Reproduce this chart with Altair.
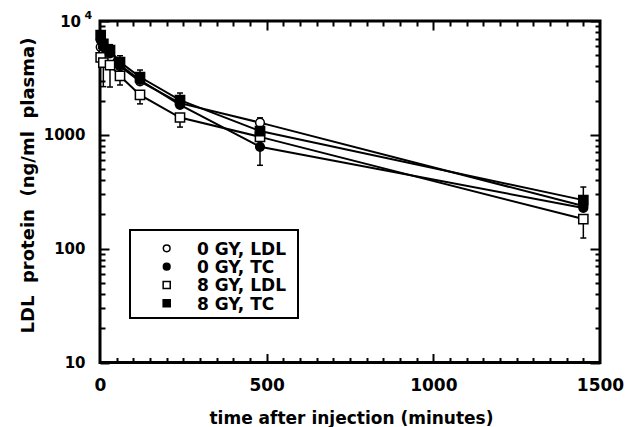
import altair as alt
import pandas as pd

# ---------------- data ----------------
times = [2, 10, 30, 60, 120, 240, 480, 1450]
ldl_0gy = [5900, 5200, 4800, 4000, 2950, 1900, 1280, 237]   # open circle
tc_0gy = [6800, 5900, 5200, 4100, 3030, 1830, 785, 228]     # filled circle
ldl_8gy = [4800, 4300, 4100, 3290, 2240, 1420, 960, 182]    # open square
tc_8gy = [7500, 6300, 5550, 4350, 3220, 2020, 1080, 267]    # filled square

# visible error-bar ends (None where hidden behind other symbols)
ldl_8gy_low = [None, 2650, 2630, 2740, 1870, 1170, None, 124]
tc_8gy_high = [None, None, 6200, 4950, 3710, 2330, 1410, 348]
tc_0gy_low = [None, None, None, None, None, None, 540, None]

series_names = ["0 GY, LDL", "0 GY, TC", "8 GY, LDL", "8 GY, TC"]
series_values = [ldl_0gy, tc_0gy, ldl_8gy, tc_8gy]
series_shapes = ["circle", "circle", "square", "square"]
series_fills = ["white", "black", "white", "black"]
series_errors = [None, tc_0gy_low, ldl_8gy_low, tc_8gy_high]

x_labels = [0, 500, 1000, 1500]
x_major = [500, 1000]
x_minor = [50, 100, 150, 200, 250, 300, 350, 400, 450, 550, 600, 650, 700,
           750, 800, 850, 900, 950, 1050, 1100, 1150, 1200, 1250, 1300,
           1350, 1400, 1450]
y_major = [10, 100, 1000, 10000]
y_minor = [20, 30, 40, 50, 60, 70, 80, 90, 200, 300, 400, 500, 600, 700,
           800, 900, 2000, 3000, 4000, 5000, 6000, 7000, 8000, 9000]

FONT = "DejaVu Sans"
W, H = 500, 341.5

rows = []
for name, vals, shp, fil in zip(series_names, series_values, series_shapes, series_fills):
    for t, v in zip(times, vals):
        rows.append({"time": t, "value": v, "series": name, "shape": shp, "fill": fil})
df = pd.DataFrame(rows)

err_rows = []
for name, vals, errs in zip(series_names, series_values, series_errors):
    if errs is None:
        continue
    for t, v, e in zip(times, vals, errs):
        if e is not None:
            err_rows.append({"time": t, "value": v, "end": e, "series": name})
err_df = pd.DataFrame(err_rows)

xscale = alt.Scale(domain=[0, 1500], nice=False, zero=False)
yscale = alt.Scale(type="log", domain=[10, 10000], nice=False)

def tick_axis(orient, offset, values, size):
    return alt.Axis(orient=orient, offset=offset, values=values, labels=False,
                    domain=False, grid=False, ticks=True, tickSize=size,
                    tickWidth=2, tickColor="black", title=None)

axis_xA = alt.Axis(orient="bottom", values=x_labels, ticks=False, domain=False,
                   grid=False, format="d", labelFont=FONT, labelFontSize=17,
                   labelFontWeight="bold", labelColor="black", labelPadding=14.5,
                   labelFlush=False, labelOverlap=False,
                   title="time after injection (minutes)", titleFont=FONT,
                   titleFontSize=17, titleFontWeight="bold", titleColor="black",
                   titleX=251, titleY=60.5, titleAlign="center",
                   titleBaseline="alphabetic")
axis_yA = alt.Axis(orient="left", values=y_major, ticks=False, domain=False,
                   grid=False, format="d",
                   labelExpr="datum.value >= 10000 ? '' : datum.label",
                   labelFont=FONT, labelFontSize=15, labelFontWeight="bold",
                   labelColor="black", labelPadding=15, labelFlush=False,
                   labelOverlap=False,
                   title="LDL\u00a0 protein\u00a0 (ng/ml\u00a0 plasma)",
                   titleFont=FONT, titleFontSize=18, titleFontWeight="bold",
                   titleColor="black", titleAngle=-90, titleX=-71.5, titleY=164,
                   titleAlign="center", titleBaseline="middle")

lines = alt.Chart(df).mark_line(color="black", strokeWidth=2).encode(
    x=alt.X("time:Q", scale=xscale, axis=axis_xA),
    y=alt.Y("value:Q", scale=yscale, axis=axis_yA),
    detail="series:N",
    order="time:Q",
)

err = alt.Chart(err_df).mark_rule(color="black", strokeWidth=1.5).encode(
    x=alt.X("time:Q", scale=xscale, axis=tick_axis("top", -H, x_minor, 5)),
    y=alt.Y("value:Q", scale=yscale, axis=tick_axis("right", -W, y_major, 9)),
    y2="end:Q",
)

caps = alt.Chart(err_df).mark_point(shape="stroke", size=36, color="black",
                                    strokeWidth=1.5, opacity=1).encode(
    x=alt.X("time:Q", scale=xscale, axis=tick_axis("top", -H, x_major, 9)),
    y=alt.Y("end:Q", scale=yscale, axis=tick_axis("right", -W, y_minor, 5)),
)

circles = alt.Chart(df[df["shape"] == "circle"]).mark_point(
    shape="circle", size=75, filled=True, stroke="black", strokeWidth=1.5,
    opacity=1).encode(
    x=alt.X("time:Q", scale=xscale, axis=tick_axis("bottom", -H, x_minor, 5)),
    y=alt.Y("value:Q", scale=yscale, axis=tick_axis("left", -W, y_major, 10)),
    fill=alt.Fill("fill:N", scale=None),
)

squares = alt.Chart(df[df["shape"] == "square"]).mark_point(
    shape="square", size=85, filled=True, stroke="black", strokeWidth=1.5,
    opacity=1).encode(
    x=alt.X("time:Q", scale=xscale, axis=tick_axis("bottom", -H, x_major, 9)),
    y=alt.Y("value:Q", scale=yscale, axis=tick_axis("left", -W, y_minor, 5)),
    fill=alt.Fill("fill:N", scale=None),
)

# ---------------- legend box (drawn by hand, like the original) ----------------
one = pd.DataFrame({"k": [0]})
box = alt.Chart(one).mark_rect(fill="white", stroke="black", strokeWidth=2).encode(
    x=alt.value(30), x2=alt.value(198), y=alt.value(209), y2=alt.value(297))

legend_layers = [box]
sym_y = [227.3, 245.7, 264, 282.3]
for name, shp, fil, yy in zip(series_names, series_shapes, series_fills, sym_y):
    lab = pd.DataFrame({"label": [name]})
    legend_layers.append(
        alt.Chart(lab).mark_point(shape=shp, size=45 if shp == "circle" else 50,
                                  filled=True, fill=fil, stroke="black",
                                  strokeWidth=1.5, opacity=1).encode(
            x=alt.value(66.7), y=alt.value(yy)))
    legend_layers.append(
        alt.Chart(lab).mark_text(font=FONT, fontSize=17, fontWeight="bold",
                                 color="black", align="left",
                                 baseline="alphabetic").encode(
            x=alt.value(97), y=alt.value(yy + 6.3), text="label:N"))

# "10^4" top label of the y axis
sup_base = alt.Chart(pd.DataFrame({"t": ["10"]})).mark_text(
    font=FONT, fontSize=15, fontWeight="bold", color="black", align="right",
    baseline="alphabetic").encode(x=alt.value(-19), y=alt.value(5.7), text="t:N")
sup_exp = alt.Chart(pd.DataFrame({"t": ["4"]})).mark_text(
    font=FONT, fontSize=11, fontWeight="bold", color="black", align="left",
    baseline="alphabetic").encode(x=alt.value(-15.5), y=alt.value(-1.7), text="t:N")

chart = alt.layer(lines, err, caps, circles, squares, *legend_layers, sup_base, sup_exp).resolve_axis(
    x="independent", y="independent"
).properties(
    width=W, height=H,
    padding={"left": 100, "top": 21, "right": 29, "bottom": 64.5},
    autosize=alt.AutoSizeParams(type="none"),
    background="white",
).configure_view(stroke="black", strokeWidth=3)

chart.save("out.html", embed_options={"renderer": "svg", "actions": False})
